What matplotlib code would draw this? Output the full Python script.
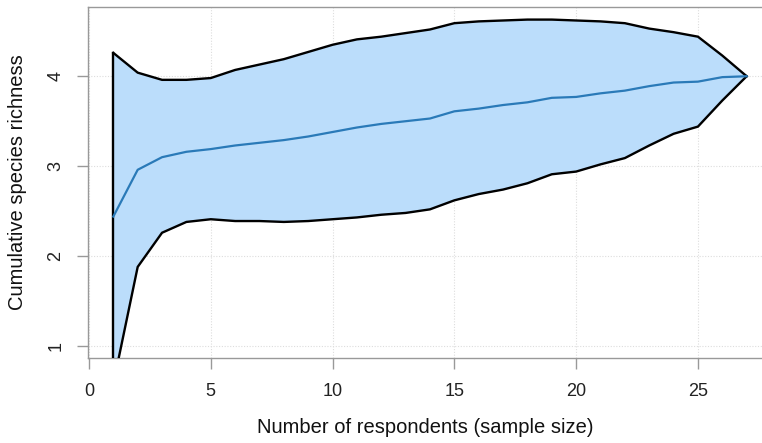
import matplotlib
matplotlib.use("Agg")
import matplotlib.pyplot as plt

plt.rcParams['font.family'] = ['Liberation Sans', 'DejaVu Sans']

respondents = list(range(1, 28))
richness_mean = [2.44, 2.96, 3.10, 3.16, 3.19, 3.23, 3.26, 3.29, 3.33, 3.38, 3.43, 3.47, 3.50,
                 3.53, 3.61, 3.64, 3.68, 3.71, 3.76, 3.77, 3.81, 3.84, 3.89, 3.93, 3.94, 3.99, 4.00]
richness_upper = [4.26, 4.04, 3.96, 3.96, 3.98, 4.07, 4.13, 4.19, 4.27, 4.35, 4.41, 4.44, 4.48,
                  4.52, 4.59, 4.61, 4.62, 4.63, 4.63, 4.62, 4.61, 4.59, 4.53, 4.49, 4.44, 4.23, 4.00]
richness_lower = [0.58, 1.88, 2.26, 2.38, 2.41, 2.39, 2.39, 2.38, 2.39, 2.41, 2.43, 2.46, 2.48,
                  2.52, 2.62, 2.69, 2.74, 2.81, 2.91, 2.94, 3.02, 3.09, 3.23, 3.36, 3.44, 3.73, 4.00]
x_ticks = [0, 5, 10, 15, 20, 25]
y_ticks = [1, 2, 3, 4]

fig = plt.figure(figsize=(7.62, 4.43), dpi=100)
ax = fig.add_axes([88 / 762, 85 / 443, 1 - 88 / 762, (358 - 7) / 443])

ax.fill_between(respondents, richness_lower, richness_upper, color='#BBDDFB', lw=0, zorder=2)
ax.plot(respondents, richness_upper, color='black', lw=1.7, zorder=3)
ax.plot(respondents, richness_lower, color='black', lw=1.7, zorder=3)
ax.plot([respondents[0], respondents[0]], [richness_lower[0], richness_upper[0]],
        color='black', lw=1.7, zorder=3)
ax.plot(respondents, richness_mean, color='#2A7AB8', lw=1.6, zorder=4)

ax.set_xlim(-0.04, 27.63)
ax.set_ylim(0.867, 4.77)
ax.set_xticks(x_ticks)
ax.set_yticks(y_ticks)
ax.grid(True, color='#DDDDDD', linestyle=(0, (1, 1.5)), lw=0.8, zorder=0)

for side in ['left', 'bottom', 'top']:
    ax.spines[side].set_color('#999999')
    ax.spines[side].set_linewidth(1.0)
ax.spines['right'].set_visible(False)

ax.tick_params(axis='both', colors='#999999', length=8, width=1.0, labelcolor='#222222',
               labelsize=13)
ax.tick_params(axis='x', pad=10)
ax.tick_params(axis='y', pad=9)
for lbl in ax.get_yticklabels():
    lbl.set_rotation(90)
    lbl.set_va('center')

ax.set_xlabel('Number of respondents (sample size)', fontsize=14.5, color='#111111', labelpad=13)
ax.set_ylabel('Cumulative species richness', fontsize=14.5, color='#111111', labelpad=15)

fig.savefig('out.png', dpi=100)
